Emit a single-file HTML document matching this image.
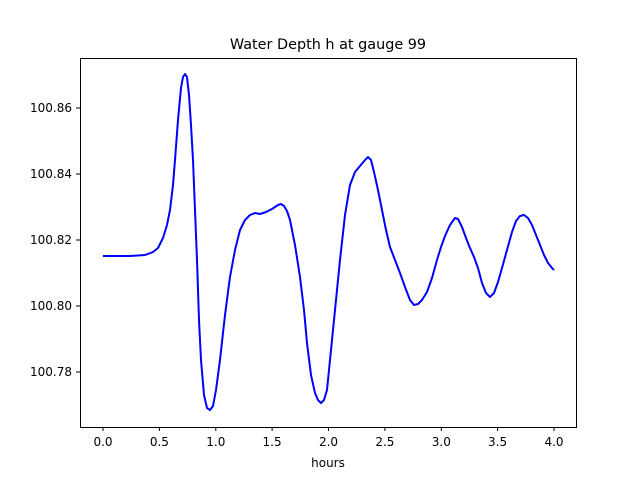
<!DOCTYPE html>
<html><head><style>body{margin:0;background:#fff}</style></head><body>
<svg width="640" height="480" xmlns="http://www.w3.org/2000/svg" font-family="'DejaVu Sans', sans-serif">
<rect width="640" height="480" fill="#fff"/>
<text x="328" y="49" text-anchor="middle" font-size="14.4">Water Depth h at gauge 99</text>
<polyline fill="none" stroke="#0000ff" stroke-width="2" stroke-linejoin="round" points="103,256 130,256 145,255 153,252 158,248 163,238 167,225 170,210 173,185 175,160 178,120 181,88 183,77 185,74 187,77 189,95 191,125 193,160 195,210 197,260 199,320 201,360 204,395 207,408 210,410 213,406 216,390 220,360 225,315 230,277 235,250 240,230 245,220 250,215 255,213 260,214 266,212 272,209 278,205 281,204 284,206 287,211 290,220 295,245 300,277 304,310 307,343 311,375 315,393 318,400 321,403 324,400 327,390 330,360 335,310 340,260 345,215 350,185 355,172 360,166 365,160 368,157 371,160 374,172 378,190 382,210 386,230 390,247 395,260 400,273 405,287 410,300 414,305 418,304 422,300 427,292 432,278 437,260 441,247 445,236 450,225 455,218 458,219 462,227 466,238 470,248 474,257 478,268 482,283 486,293 490,297 494,293 498,282 502,268 507,250 512,232 516,221 520,216 524,215 528,218 532,225 536,235 540,245 544,255 548,263 552,268 554,270"/>
<rect x="80.5" y="58.5" width="496" height="369" fill="none" stroke="#000" stroke-width="1"/>
<g stroke="#000">
<line x1="103" y1="427" x2="103" y2="431"/><line x1="159.4" y1="427" x2="159.4" y2="431"/><line x1="215.8" y1="427" x2="215.8" y2="431"/><line x1="272.1" y1="427" x2="272.1" y2="431"/><line x1="328.5" y1="427" x2="328.5" y2="431"/><line x1="384.9" y1="427" x2="384.9" y2="431"/><line x1="441.3" y1="427" x2="441.3" y2="431"/><line x1="497.6" y1="427" x2="497.6" y2="431"/><line x1="554" y1="427" x2="554" y2="431"/>
<line x1="76" y1="108" x2="80" y2="108"/><line x1="76" y1="174" x2="80" y2="174"/><line x1="76" y1="240" x2="80" y2="240"/><line x1="76" y1="306" x2="80" y2="306"/><line x1="76" y1="372" x2="80" y2="372"/>
</g>
<g font-size="12" text-anchor="middle">
<text x="103" y="446">0.0</text><text x="159.4" y="446">0.5</text><text x="215.8" y="446">1.0</text><text x="272.1" y="446">1.5</text><text x="328.5" y="446">2.0</text><text x="384.9" y="446">2.5</text><text x="441.3" y="446">3.0</text><text x="497.6" y="446">3.5</text><text x="554" y="446">4.0</text>
<text x="328" y="467">hours</text>
</g>
<g font-size="12" text-anchor="end">
<text x="72" y="112">100.86</text><text x="72" y="178">100.84</text><text x="72" y="244">100.82</text><text x="72" y="310">100.80</text><text x="72" y="376">100.78</text>
</g>
</svg>
</body></html>
